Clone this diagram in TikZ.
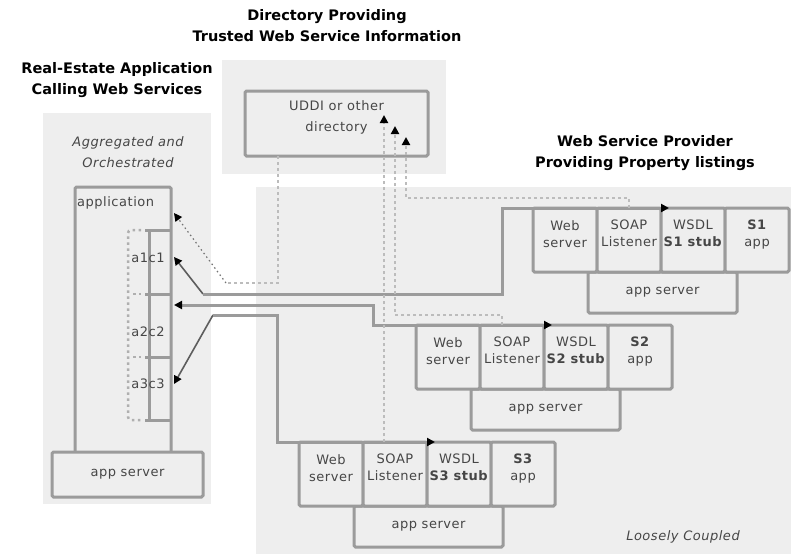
\documentclass[tikz,border=0pt]{standalone}
\usepackage{fontspec}
\setmainfont{DejaVu Sans}
\newfontfamily\lblfont[LetterSpace=4]{DejaVu Sans}
\usetikzlibrary{arrows.meta,positioning}

\definecolor{panel}{RGB}{238,238,238}
\definecolor{edge}{RGB}{155,155,155}
\definecolor{dashgrey}{RGB}{188,188,188}
\definecolor{txt}{RGB}{70,70,70}

\tikzset{
  title/.style={font=\bfseries\fontsize{14.5}{21}\selectfont, align=center, text=black, inner sep=0pt},
  lbl/.style={font=\lblfont\fontsize{13}{17}\selectfont, text=txt, align=center, inner sep=0pt},
  note/.style={lbl, font=\lblfont\itshape\fontsize{13}{21}\selectfont},
  cell/.style={draw=edge, line width=3pt, fill=panel, rounded corners=1.5pt, minimum width=64pt, minimum height=64pt,
    anchor=north west, inner sep=0pt, outer sep=0pt},
  srvbox/.style={cell, minimum width=149pt, minimum height=41pt, font=\lblfont\fontsize{13}{17}\selectfont, text=txt},
  link/.style={draw=edge, line width=3pt},
  thinlink/.style={draw=edge!60!black, line width=1.6pt},
  dirlink/.style={draw=dashgrey, line width=2.5pt, dash pattern=on 3pt off 3pt},
  dotlink/.style={draw=black!55, line width=1.2pt, dash pattern=on 1.5pt off 3pt},
  bracket/.style={draw=edge!80, line width=2.5pt, dash pattern=on 2.5pt off 3.5pt},
}

\begin{document}
\begin{tikzpicture}[x=1pt, y=-1pt, >={Triangle[length=8pt, width=8pt, color=black]}]
	\useasboundingbox (0,0) rectangle (791,554);
	% shaded areas
	\fill[panel] (43,113) rectangle (211,504);
	\fill[panel] (222,60) rectangle (446,174);
	\fill[panel] (256,187) rectangle (791,554);

	% titles
	\node[title] (dirtitle) at (327,26) {Directory Providing\\Trusted Web Service Information};
	\node[title] (apptitle) at (117,80) {Real-Estate Application\\Calling Web Services};
	\node[title] (provtitle) at (645,153) {Web Service Provider\\Providing Property listings};

	% directory
	\node[cell, anchor=center, minimum width=183pt, minimum height=65pt,
		label={[lbl, anchor=north, yshift=-9pt]north:{UDDI or other\\[4pt]directory}}] (uddi) at (336.5,123.5) {};

	% real-estate application
	\node[note] (aggr) at (128,152) {Aggregated and\\Orchestrated};
	\node[cell, minimum width=96pt, minimum height=270pt] (appl) at (75,187) {};
	\node[srvbox, anchor=center, minimum width=151pt, minimum height=45pt] (appsrv) at (127.5,474.5) {app server};
	\node[lbl, anchor=west] (applbl) at (77,203) {application};
	\draw[link] (149,230) -- (149,420);
	\foreach \ry in {230,294,357,420}
		\draw[link] (145,\ry) -- (171,\ry);
	\draw[bracket, rounded corners=3pt] (141,230) -- (128,230) -- (128,420) -- (141,420);
	\foreach \ry in {294,357}
		\draw[bracket] (133,\ry) -- (141,\ry);
	\node[lbl] (a1c1) at (148,258) {a1c1};
	\node[lbl] (a2c2) at (148,332) {a2c2};
	\node[lbl] (a3c3) at (148,384) {a3c3};

	% service providers
	\foreach \sid/\sx/\sy in {1/533/208, 2/416/325, 3/299/442}{
		\node[srvbox] (s\sid-srv) at (\sx+55,\sy+64) {app server};
		\node[cell, label={[lbl, anchor=north, yshift=-12pt]north:{Web\\server}}] (s\sid-web) at (\sx,\sy) {};
		\node[cell, label={[lbl, anchor=north, yshift=-12pt]north:{SOAP\\Listener}}] (s\sid-soap) at (\sx+64,\sy) {};
		\node[cell, label={[lbl, anchor=north, yshift=-12pt]north:{WSDL\\\textbf{S\sid\ stub}}}] (s\sid-wsdl) at (\sx+128,\sy) {};
		\node[cell, label={[lbl, anchor=north, yshift=-12pt]north:{\textbf{S\sid}\\app}}] (s\sid-app) at (\sx+192,\sy) {};
	}
	\node[note] (loose) at (683,537) {Loosely Coupled};

	% entry points on the application
	\coordinate (in-dir) at (174,213);
	\coordinate (in1) at (174,257);
	\coordinate (in2) at (174,305);
	\coordinate (in3) at (174,384);

	% calls to the providers
	\coordinate (k1) at (203,294);
	\coordinate (k1up) at (502,294);
	\draw[thinlink, ->] (k1) -- (in1);
	\draw[link, ->] (k1) -- (k1up) |- ([xshift=8pt]s1-wsdl.north west);
	\coordinate (k2) at (373,305);
	\draw[link, <->] (in2) -- (k2) |- ([xshift=8pt]s2-wsdl.north west);
	\coordinate (k3) at (213,315);
	\coordinate (k3down) at (277,315);
	\draw[thinlink, ->] (k3) -- (in3);
	\draw[link, ->] (k3) -- (k3down) |- ([xshift=8pt]s3-wsdl.north west);

	% directory lookups
	\coordinate (k0) at (278,283);
	\coordinate (k0b) at (226,283);
	\draw[dirlink] (uddi.south -| k0) -- (k0) -- (k0b);
	\draw[dotlink, ->] (k0b) -- (in-dir);
	\coordinate (p1) at (406,198);
	\coordinate (t1) at (406,137);
	\draw[dirlink, ->] (s1-soap.north) -- (s1-soap.north |- p1) -- (p1) -- (t1);
	\coordinate (p2) at (395,315);
	\coordinate (t2) at (395,126);
	\draw[dirlink, ->] ([xshift=-10pt]s2-soap.north) -- ([xshift=-10pt]s2-soap.north |- p2) -- (p2) -- (t2);
	\coordinate (t3) at (384,115);
	\draw[dirlink, ->] ([xshift=-11pt]s3-soap.north) -- (t3);
\end{tikzpicture}
\end{document}
